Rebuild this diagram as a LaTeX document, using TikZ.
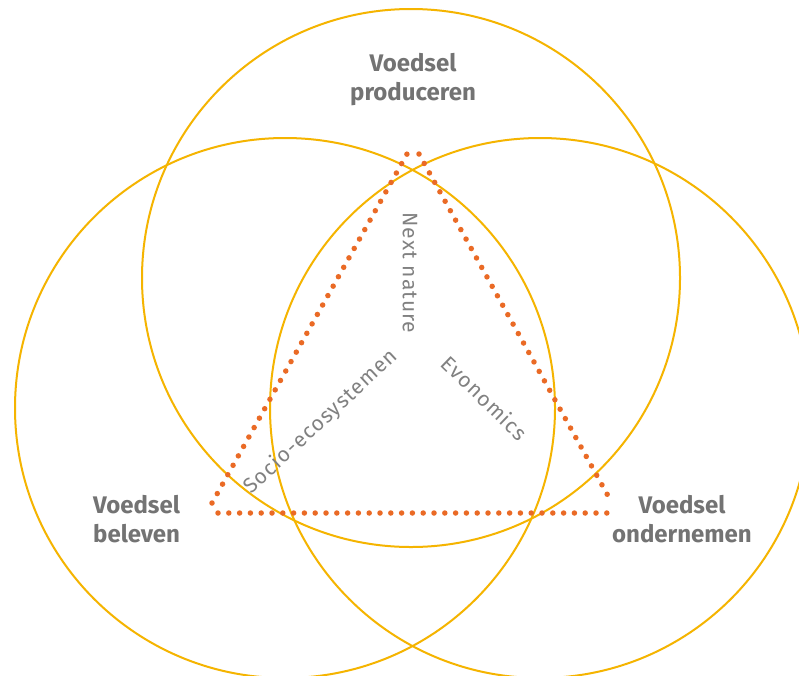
\documentclass[tikz,border=0pt]{standalone}
\usepackage{fontspec}
\setmainfont{Fira Sans}
\newfontfamily\thinfont[LetterSpace=5]{Fira Sans}
\definecolor{ringgold}{HTML}{F5B400}
\definecolor{dotorange}{HTML}{EA6A25}
\definecolor{labelgray}{HTML}{737373}

\tikzset{
  ring/.style={draw=ringgold, line width=2pt},
  dotline/.style={draw=dotorange, line width=5.5pt, line cap=round, dash pattern=on 0pt off 10.8pt},
  pillar/.style={font=\fontsize{24}{29}\selectfont\bfseries, text=labelgray, inner sep=0pt},
  theme/.style={font=\thinfont\fontsize{21}{26}\selectfont, text=labelgray!90, inner sep=0pt}
}

\begin{document}
\begin{tikzpicture}[x=1pt, y=-1pt]
            \clip (0,0) rectangle (799,675);
            \fill[white] (0,0) rectangle (799,675);

            % the three rings
            \coordinate (cprod) at (411,278);
            \coordinate (cbel) at (285,408);
            \coordinate (cond) at (540,408);
            \draw[ring] (cprod) circle[radius=269];
            \draw[ring] (cbel) circle[radius=270];
            \draw[ring] (cond) circle[radius=270];

            % dotted triangle
            \coordinate (lowleft) at (212,503);
            \coordinate (topleft) at (407,154);
            \coordinate (topright) at (419,154);
            \coordinate (lowright) at (612,503);
            \coordinate (baseleft) at (218,513);
            \coordinate (baseright) at (607,513);
            \draw[dotline] (lowleft) -- (topleft);
            \draw[dotline] (topright) -- (lowright);
            \draw[dotline] (baseleft) -- (baseright);

            \node[pillar, align=center] (produceren) at (413,80) {Voedsel\\produceren};
            \node[pillar, align=left, anchor=west] (beleven) at (93,519) {Voedsel\\beleven};
            \node[pillar, align=center] (ondernemen) at (682,519) {Voedsel\\ondernemen};

            \node[theme, rotate=-90] (nextnature) at (410,273) {Next nature};
            \node[theme, rotate=43] (socio) at (321,422) {Socio-ecosystemen};
            \node[theme, rotate=-44] (evonomics) at (485,398) {Evonomics};
        \end{tikzpicture}
\end{document}
